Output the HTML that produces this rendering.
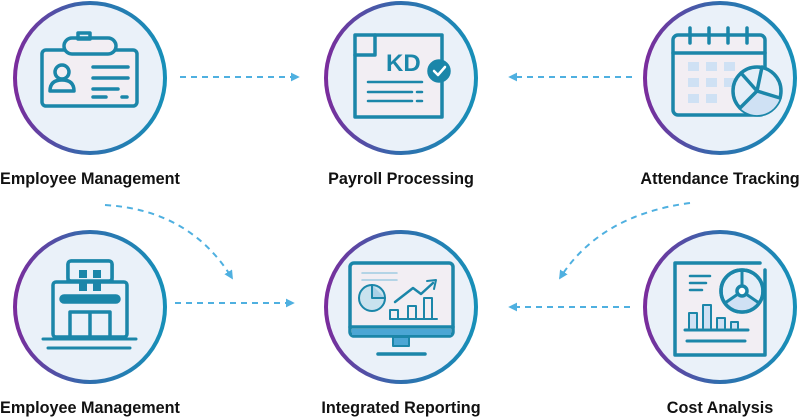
<!DOCTYPE html>
<html><head><meta charset="utf-8"><style>
html,body{margin:0;padding:0;background:#fff;width:800px;height:417px;overflow:hidden}
svg{display:block}
text.l{font-family:"Liberation Sans",Arial,sans-serif;font-weight:bold;font-size:16.2px;fill:#111}
</style></head><body>
<svg width="800" height="417" viewBox="0 0 800 417">
<defs>
<linearGradient id="g" x1="0" y1="0.5" x2="1" y2="0.5">
<stop offset="0" stop-color="#7a2c9c"/><stop offset="0.5" stop-color="#2f6fae"/><stop offset="1" stop-color="#1790b8"/>
</linearGradient>
<marker id="ah" viewBox="0 0 10 10" refX="8" refY="5" markerWidth="9" markerHeight="9" orient="auto" markerUnits="userSpaceOnUse">
<path d="M0,0 L10,5 L0,10 z" fill="#4fb0e0"/></marker>
</defs>
<g fill="#eaf1f9" stroke="url(#g)" stroke-width="4">
<circle cx="90" cy="78" r="75"/>
<circle cx="401" cy="78" r="75"/>
<circle cx="720" cy="78" r="75"/>
<circle cx="90" cy="307" r="75"/>
<circle cx="401" cy="307" r="75"/>
<circle cx="720" cy="307" r="75"/>
</g>
<g stroke="#4fb0e0" stroke-width="2" fill="none" stroke-dasharray="6,5" marker-end="url(#ah)">
<line x1="180" y1="77" x2="298" y2="77"/>
<line x1="632" y1="77" x2="510" y2="77"/>
<line x1="175" y1="303" x2="293" y2="303"/>
<line x1="630" y1="307" x2="510" y2="307"/>
<path d="M105,205 Q190,210 232,278"/>
<path d="M690,203 Q600,215 560,278"/>
</g>
<g fill="none" stroke="#1b86a9" stroke-width="3.5" stroke-linecap="round" stroke-linejoin="round">
<rect x="42" y="50" width="95" height="56" rx="4" fill="#f2eef3"/>
<rect x="64" y="38" width="52" height="16" rx="8" fill="#f2eef3"/>
<rect x="78" y="33" width="12" height="6"/>
<circle cx="62" cy="72" r="7"/>
<path d="M50,91 Q50,80 62,80 Q74,80 74,91 Z"/>
<path d="M93,67 H128 M93,78 H128 M93,89 H118 M93,97 H106 M122,97 H127"/>
<path d="M355,35 H442 V117 H355 V55 Z" fill="#f2eef3"/>
<path d="M355,55 H375 V35"/>
<circle cx="439" cy="71" r="10" fill="#1b86a9"/>
<path d="M434,71 L438,75 L445,67" stroke="#fff" stroke-width="2.5"/>
<path d="M368,82 H422 M368,92 H412 M368,101 H412 M417,92 H422 M417,101 H422" stroke-width="2.5"/>
<rect x="673" y="35" width="92" height="80" rx="5" fill="#f2eef3"/>
<path d="M673,53 H765"/>
<path d="M690,28 V43 M709,28 V43 M728,28 V43 M747,28 V43"/>
<g fill="#cfe1f4" stroke="none"><rect x="688" y="62" width="11" height="9"/><rect x="706" y="62" width="11" height="9"/><rect x="724" y="62" width="11" height="9"/><rect x="688" y="78" width="11" height="9"/><rect x="706" y="78" width="11" height="9"/><rect x="724" y="78" width="11" height="9"/><rect x="688" y="94" width="11" height="9"/><rect x="706" y="94" width="11" height="9"/></g>
<circle cx="757" cy="91" r="24" fill="#e4eef8"/>
<path d="M757,91 L780,98 A24,24 0 0 1 740,108 Z" fill="#cfe1f4" stroke="none"/>
<path d="M757,91 L741,73 M757,91 L762,67 M757,91 L780,98 M757,91 L740,108"/>
<rect x="68" y="261" width="44" height="40" rx="3"/>
<rect x="53" y="282" width="74" height="55" rx="3" fill="#eaf1f9"/>
<rect x="68" y="261" width="44" height="20" rx="3" fill="#eaf1f9"/>
<g fill="#1b86a9" stroke="none"><rect x="79" y="270" width="8" height="8"/><rect x="93" y="270" width="8" height="8"/><rect x="79" y="283" width="8" height="8"/><rect x="93" y="283" width="8" height="8"/></g>
<rect x="61" y="296" width="58" height="6" rx="3" fill="#1b86a9"/>
<path d="M70,337 V312 H110 V337 M90,312 V337"/>
<path d="M43,339 H136 M48,348 H130" stroke-width="3"/>
<rect x="350" y="263" width="103" height="73" rx="4" fill="#f2eef3"/>
<path d="M350,327 H453"/>
<rect x="352" y="329" width="99" height="6" fill="#4ba6d4" stroke="none"/>
<rect x="393" y="337" width="16" height="9" fill="#4ba6d4" stroke="#1b86a9" stroke-width="2"/>
<path d="M378,354 H425"/>
<path d="M362,273 H397 M362,280 H397" stroke="#9fcbe2" stroke-width="1.5"/>
<circle cx="372" cy="298" r="13" fill="#c9e2ee" stroke-width="2"/>
<path d="M372,285 V298 H385" stroke-width="2" fill="#a9d0e6"/>
<path d="M390,319 H437" stroke-width="2"/>
<path d="M390,319 V310 H398 V319 M408,319 V306 H416 V319 M424,319 V298 H432 V319" stroke-width="2"/>
<path d="M395,302 L413,288 L421,294 L433,283" stroke-width="2.5"/>
<path d="M427,281 L436,280 L434,289" stroke-width="2"/>
<path d="M765,270 V355 H675 V263 H760" fill="#f2eef3"/>
<path d="M690,276 H710 M690,283 H706 M690,290 H702" stroke-width="2.5"/>
<circle cx="742" cy="291" r="21" fill="#e4eef8"/>
<path d="M725,303 A21,21 0 0 0 759,303 L742,291 Z" fill="#cfe1f4" stroke="none"/>
<circle cx="742" cy="291" r="21"/>
<circle cx="742" cy="291" r="5" fill="#fff"/>
<path d="M742,286 V270 M738,294 L725,303 M746,294 L759,303" stroke-width="3"/>
<path d="M689,328 V313 H697 V328 M703,328 V305 H711 V328 M717,328 V318 H725 V328 M731,328 V322 H738 V328" stroke-width="2" fill="#cfe1f4"/>
<path d="M685,330 H748 M687,341 H745" stroke-width="3"/>
</g>
<text x="386" y="71" style="font-family:'Liberation Sans',Arial,sans-serif;font-weight:bold;font-size:24px;fill:#1b86a9">KD</text>
<text class="l" x="90" y="184" text-anchor="middle">Employee Management</text>
<text class="l" x="401" y="184" text-anchor="middle">Payroll Processing</text>
<text class="l" x="720" y="184" text-anchor="middle">Attendance Tracking</text>
<text class="l" x="90" y="413" text-anchor="middle">Employee Management</text>
<text class="l" x="401" y="413" text-anchor="middle">Integrated Reporting</text>
<text class="l" x="720" y="413" text-anchor="middle">Cost Analysis</text>
</svg>
</body></html>
